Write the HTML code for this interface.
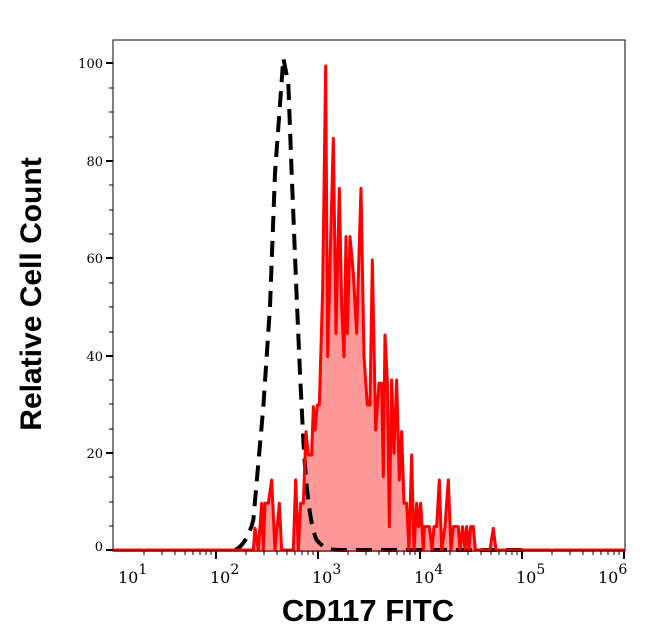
<!DOCTYPE html>
<html><head><style>body{margin:0;background:#fff}svg{display:block}</style></head><body>
<svg width="646" height="641" viewBox="0 0 646 641" xmlns="http://www.w3.org/2000/svg">
<rect x="113" y="40" width="512" height="511" fill="none" stroke="#000" stroke-width="1"/>
<g stroke="#000" stroke-width="2">
<line x1="106" y1="63" x2="113" y2="63"/><line x1="106" y1="161" x2="113" y2="161"/><line x1="106" y1="258" x2="113" y2="258"/><line x1="106" y1="356" x2="113" y2="356"/><line x1="106" y1="453" x2="113" y2="453"/><line x1="106" y1="550" x2="113" y2="550"/>
</g>
<g stroke="#000" stroke-width="1">
<line x1="109" y1="88" x2="113" y2="88"/><line x1="109" y1="112" x2="113" y2="112"/><line x1="109" y1="137" x2="113" y2="137"/>
<line x1="109" y1="185" x2="113" y2="185"/><line x1="109" y1="210" x2="113" y2="210"/><line x1="109" y1="234" x2="113" y2="234"/>
<line x1="109" y1="283" x2="113" y2="283"/><line x1="109" y1="307" x2="113" y2="307"/><line x1="109" y1="332" x2="113" y2="332"/>
<line x1="109" y1="380" x2="113" y2="380"/><line x1="109" y1="404" x2="113" y2="404"/><line x1="109" y1="429" x2="113" y2="429"/>
<line x1="109" y1="477" x2="113" y2="477"/><line x1="109" y1="502" x2="113" y2="502"/><line x1="109" y1="526" x2="113" y2="526"/>
</g>
<g font-family="DejaVu Serif, serif" font-size="13" text-anchor="end" fill="#000">
<text x="103" y="68">100</text><text x="103" y="166">80</text><text x="103" y="263">60</text><text x="103" y="361">40</text><text x="103" y="458">20</text><text x="103" y="551">0</text>
</g>
<g stroke="#000" stroke-width="2">
<line x1="216" y1="551" x2="216" y2="559"/><line x1="318" y1="551" x2="318" y2="559"/><line x1="420" y1="551" x2="420" y2="559"/><line x1="522" y1="551" x2="522" y2="559"/><line x1="624" y1="551" x2="624" y2="559"/>
</g>
<g font-family="DejaVu Serif, serif" font-size="16" fill="#000">
<text x="118" y="583">10<tspan font-size="14" dy="-9">1</tspan></text>
<text x="210" y="583">10<tspan font-size="14" dy="-9">2</tspan></text>
<text x="312" y="583">10<tspan font-size="14" dy="-9">3</tspan></text>
<text x="414" y="583">10<tspan font-size="14" dy="-9">4</tspan></text>
<text x="516" y="583">10<tspan font-size="14" dy="-9">5</tspan></text>
<text x="598" y="583">10<tspan font-size="14" dy="-9">6</tspan></text>
</g>
<g transform="translate(230,40) scale(0.3333)">
<polygon fill="#ff9999" points="70,1530 75,1465 85,1530 95,1390 100,1530 105,1390 115,1390 125,1320 135,1530 148,1390 155,1530 190,1530 197,1320 205,1530 212,1390 220,1390 228,1175 235,1245 245,1245 250,1100 255,1170 262,1095 268,1095 278,750 287,78 293,950 302,600 310,295 318,880 328,445 335,800 342,950 348,590 352,880 360,590 370,700 380,880 393,445 402,950 412,1095 420,1095 427,660 437,1170 447,1030 455,1030 460,1310 465,885 472,1020 478,1460 485,1020 492,1240 500,1020 508,1320 515,1175 522,1390 530,1390 537,1530 545,1245 552,1530 560,1390 566,1460 572,1390 580,1530 583,1460 590,1460 598,1460 606,1530 612,1460 620,1460 628,1320 635,1530 645,1460 655,1320 663,1530 670,1460 685,1460 690,1530 698,1460 705,1530 710,1460 717,1530 722,1460 730,1460 736,1530 780,1530 790,1465 798,1530"/>
<path fill="none" stroke="#000" stroke-width="12" stroke-dasharray="48,27" d="M15,1530 C40,1520 60,1480 70,1440 L100,1100 L120,800 L135,400 L160,55 L175,130 L185,400 L200,770 L210,1000 L220,1200 C230,1380 245,1470 260,1500 C280,1525 300,1530 330,1530 L900,1530"/>
<polyline fill="none" stroke="#ff0000" stroke-width="9" stroke-linejoin="round" points="-351,1530 70,1530 75,1465 85,1530 95,1390 100,1530 105,1390 115,1390 125,1320 135,1530 148,1390 155,1530 190,1530 197,1320 205,1530 212,1390 220,1390 228,1175 235,1245 245,1245 250,1100 255,1170 262,1095 268,1095 278,750 287,78 293,950 302,600 310,295 318,880 328,445 335,800 342,950 348,590 352,880 360,590 370,700 380,880 393,445 402,950 412,1095 420,1095 427,660 437,1170 447,1030 455,1030 460,1310 465,885 472,1020 478,1460 485,1020 492,1240 500,1020 508,1320 515,1175 522,1390 530,1390 537,1530 545,1245 552,1530 560,1390 566,1460 572,1390 580,1530 583,1460 590,1460 598,1460 606,1530 612,1460 620,1460 628,1320 635,1530 645,1460 655,1320 663,1530 670,1460 685,1460 690,1530 698,1460 705,1530 710,1460 717,1530 722,1460 730,1460 736,1530 780,1530 790,1465 798,1530 1185,1530"/>
</g>
<line x1="113" y1="551" x2="625" y2="551" stroke="#800000" stroke-width="1.5"/>
<g stroke="#000" stroke-width="1">
<line x1="144" y1="551" x2="144" y2="555"/><line x1="162" y1="551" x2="162" y2="555"/><line x1="175" y1="551" x2="175" y2="555"/><line x1="185" y1="551" x2="185" y2="555"/><line x1="193" y1="551" x2="193" y2="555"/><line x1="200" y1="551" x2="200" y2="555"/><line x1="206" y1="551" x2="206" y2="555"/><line x1="211" y1="551" x2="211" y2="555"/>
<line x1="246" y1="551" x2="246" y2="555"/><line x1="264" y1="551" x2="264" y2="555"/><line x1="277" y1="551" x2="277" y2="555"/><line x1="287" y1="551" x2="287" y2="555"/><line x1="295" y1="551" x2="295" y2="555"/><line x1="302" y1="551" x2="302" y2="555"/><line x1="308" y1="551" x2="308" y2="555"/><line x1="313" y1="551" x2="313" y2="555"/>
<line x1="348" y1="551" x2="348" y2="555"/><line x1="366" y1="551" x2="366" y2="555"/><line x1="379" y1="551" x2="379" y2="555"/><line x1="389" y1="551" x2="389" y2="555"/><line x1="397" y1="551" x2="397" y2="555"/><line x1="404" y1="551" x2="404" y2="555"/><line x1="410" y1="551" x2="410" y2="555"/><line x1="415" y1="551" x2="415" y2="555"/>
<line x1="450" y1="551" x2="450" y2="555"/><line x1="468" y1="551" x2="468" y2="555"/><line x1="481" y1="551" x2="481" y2="555"/><line x1="491" y1="551" x2="491" y2="555"/><line x1="499" y1="551" x2="499" y2="555"/><line x1="506" y1="551" x2="506" y2="555"/><line x1="512" y1="551" x2="512" y2="555"/><line x1="517" y1="551" x2="517" y2="555"/>
<line x1="552" y1="551" x2="552" y2="555"/><line x1="570" y1="551" x2="570" y2="555"/><line x1="583" y1="551" x2="583" y2="555"/><line x1="593" y1="551" x2="593" y2="555"/><line x1="601" y1="551" x2="601" y2="555"/><line x1="608" y1="551" x2="608" y2="555"/><line x1="614" y1="551" x2="614" y2="555"/><line x1="619" y1="551" x2="619" y2="555"/>
</g>
<text x="368" y="621" font-family="Liberation Sans, sans-serif" font-weight="bold" font-size="31" text-anchor="middle">CD117 FITC</text>
<text transform="translate(41,294) rotate(-90)" font-family="Liberation Sans, sans-serif" font-weight="bold" font-size="30" text-anchor="middle">Relative Cell Count</text>
</svg>
</body></html>
